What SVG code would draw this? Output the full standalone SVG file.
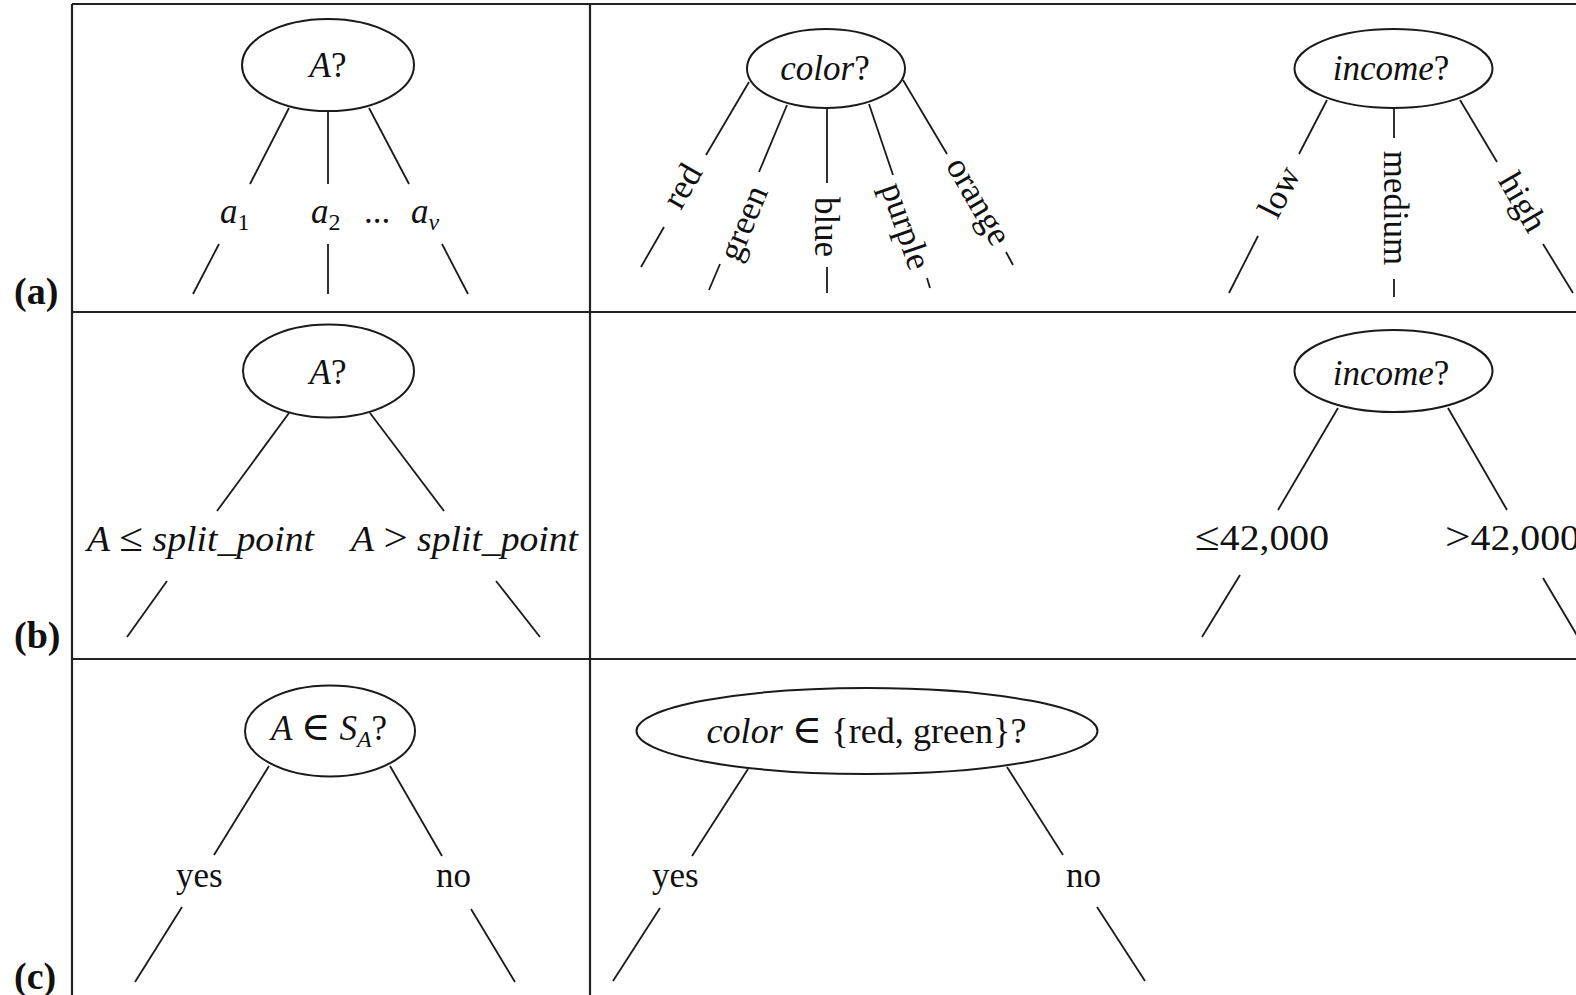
<svg xmlns="http://www.w3.org/2000/svg" width="1576" height="995" viewBox="0 0 1576 995">
<style>
.t{font-family:"Liberation Serif","Times New Roman","DejaVu Serif",serif;font-size:35px;fill:#111}
.i{font-style:italic}
.lab{font-family:"Liberation Serif","Times New Roman",serif;font-weight:bold;font-size:38px;fill:#111}
.nd{fill:none;stroke:#1a1a1a;stroke-width:2}
.e line{stroke:#1a1a1a;stroke-width:1.8;stroke-linecap:butt}
.f{fill:none;stroke:#222;stroke-width:2.2}
.rot{text-anchor:middle;dominant-baseline:central}
.mid{text-anchor:middle}
.op{font-size:40px}
</style>
<rect width="1576" height="995" fill="#fff"/>
<g id="frame">
<path class="f" d="M72 4H1576M72 4V995M590 4V995M72 312H1576M72 659H1576"/>
<text class="lab" x="14" y="304">(a)</text>
<text class="lab" x="14" y="648">(b)</text>
<text class="lab" x="14" y="989">(c)</text>
</g>
<g id="nodes">
<g id="n-a1"><ellipse class="nd" cx="328" cy="65" rx="86" ry="46"/><text class="t mid" x="328" y="77"><tspan class="i">A</tspan>?</text></g>
<g id="n-a2"><ellipse class="nd" cx="826" cy="68.5" rx="79" ry="39.5"/><text class="t mid" x="825" y="80"><tspan class="i">color</tspan>?</text></g>
<g id="n-a3"><ellipse class="nd" cx="1393.5" cy="68.5" rx="99" ry="39.5"/><text class="t mid" x="1391" y="80"><tspan class="i">income</tspan>?</text></g>
<g id="n-b1"><ellipse class="nd" cx="328.5" cy="371" rx="85.5" ry="46.5"/><text class="t mid" x="328" y="384"><tspan class="i">A</tspan>?</text></g>
<g id="n-b3"><ellipse class="nd" cx="1393.5" cy="371" rx="99" ry="41"/><text class="t mid" x="1391" y="385"><tspan class="i">income</tspan>?</text></g>
<g id="n-c1"><ellipse class="nd" cx="330" cy="731" rx="85" ry="45.5"/><text class="t mid" x="329" y="740"><tspan class="i">A</tspan> <tspan class="op">∈</tspan> <tspan class="i">S</tspan><tspan class="i" font-size="24" dy="7">A</tspan><tspan dy="-7">?</tspan></text></g>
<g id="n-c2"><ellipse class="nd" cx="867" cy="731" rx="230.5" ry="43"/><text class="t" x="706.5" y="743" textLength="320" lengthAdjust="spacingAndGlyphs"><tspan class="i">color</tspan> <tspan class="op">∈</tspan> {red, green}?</text></g>
</g>
<g id="connectors" class="e">
<line x1="289" y1="108" x2="250" y2="184"/>
<line x1="328" y1="112" x2="328" y2="184"/>
<line x1="369" y1="108" x2="409" y2="184"/>
<line x1="219" y1="244" x2="193" y2="294"/>
<line x1="328" y1="244" x2="328" y2="294"/>
<line x1="442" y1="244" x2="468" y2="294"/>
<line x1="749" y1="82" x2="706" y2="155"/>
<line x1="787" y1="105" x2="759" y2="172"/>
<line x1="827" y1="109" x2="827" y2="183"/>
<line x1="869" y1="104" x2="893" y2="175"/>
<line x1="903" y1="80" x2="947" y2="154"/>
<line x1="664" y1="227" x2="641" y2="267"/>
<line x1="720" y1="264" x2="709" y2="290"/>
<line x1="827" y1="267" x2="827" y2="293"/>
<line x1="927" y1="278" x2="930" y2="288"/>
<line x1="1006" y1="252" x2="1013" y2="265"/>
<line x1="1327" y1="100" x2="1299" y2="154"/>
<line x1="1394" y1="108" x2="1394" y2="138"/>
<line x1="1460" y1="100" x2="1497" y2="162"/>
<line x1="1258" y1="236" x2="1229" y2="293"/>
<line x1="1394" y1="279" x2="1394" y2="297"/>
<line x1="1543" y1="244" x2="1573" y2="293"/>
<line x1="289" y1="413" x2="217" y2="511"/>
<line x1="370" y1="413" x2="444" y2="511"/>
<line x1="167" y1="581" x2="127" y2="637"/>
<line x1="496" y1="581" x2="540" y2="637"/>
<line x1="1338" y1="408" x2="1278" y2="510"/>
<line x1="1448" y1="408" x2="1507" y2="510"/>
<line x1="1240" y1="575" x2="1202" y2="637"/>
<line x1="1543" y1="578" x2="1578" y2="637"/>
<line x1="269" y1="766" x2="214" y2="855"/>
<line x1="390" y1="766" x2="442" y2="856"/>
<line x1="182" y1="907" x2="135" y2="982"/>
<line x1="471" y1="909" x2="515" y2="982"/>
<line x1="748" y1="769" x2="692" y2="856"/>
<line x1="1007" y1="767" x2="1063" y2="855"/>
<line x1="660" y1="908" x2="613" y2="981"/>
<line x1="1097" y1="907" x2="1145" y2="981"/>
</g>
<g id="edge-labels">
<text class="t" x="220" y="223"><tspan class="i">a</tspan><tspan font-size="24" dy="7">1</tspan></text>
<text class="t" x="311" y="223"><tspan class="i">a</tspan><tspan font-size="24" dy="7">2</tspan></text>
<text class="t" x="364" y="223">...</text>
<text class="t" x="411" y="223"><tspan class="i">a</tspan><tspan class="i" font-size="24" dy="7">v</tspan></text>
<text class="t rot" transform="translate(682,186) rotate(-60)">red</text>
<text class="t rot" transform="translate(743,223) rotate(-67.5)">green</text>
<text class="t rot" transform="translate(826,227) rotate(90)">blue</text>
<text class="t rot" transform="translate(906,226) rotate(71)">purple</text>
<text class="t rot" transform="translate(979,201) rotate(60)">orange</text>
<text class="t rot" transform="translate(1279,192) rotate(-63)">low</text>
<text class="t rot" transform="translate(1395,208) rotate(90)">medium</text>
<text class="t rot" transform="translate(1523,202) rotate(60)">high</text>
<text class="t" x="87" y="551" textLength="227" lengthAdjust="spacingAndGlyphs"><tspan class="i">A</tspan> <tspan class="op">≤</tspan> <tspan class="i">split</tspan>_<tspan class="i">point</tspan></text>
<text class="t" x="351" y="551" textLength="227" lengthAdjust="spacingAndGlyphs"><tspan class="i">A</tspan> <tspan class="op">&gt;</tspan> <tspan class="i">split</tspan>_<tspan class="i">point</tspan></text>
<text class="t" x="1195" y="550" textLength="134" lengthAdjust="spacingAndGlyphs"><tspan class="op">≤</tspan>42,000</text>
<text class="t" x="1445" y="550" textLength="135" lengthAdjust="spacingAndGlyphs"><tspan class="op">&gt;</tspan>42,000</text>
<text class="t" x="176" y="887">yes</text>
<text class="t" x="436" y="887">no</text>
<text class="t" x="652" y="887">yes</text>
<text class="t" x="1066" y="887">no</text>
</g>
</svg>
